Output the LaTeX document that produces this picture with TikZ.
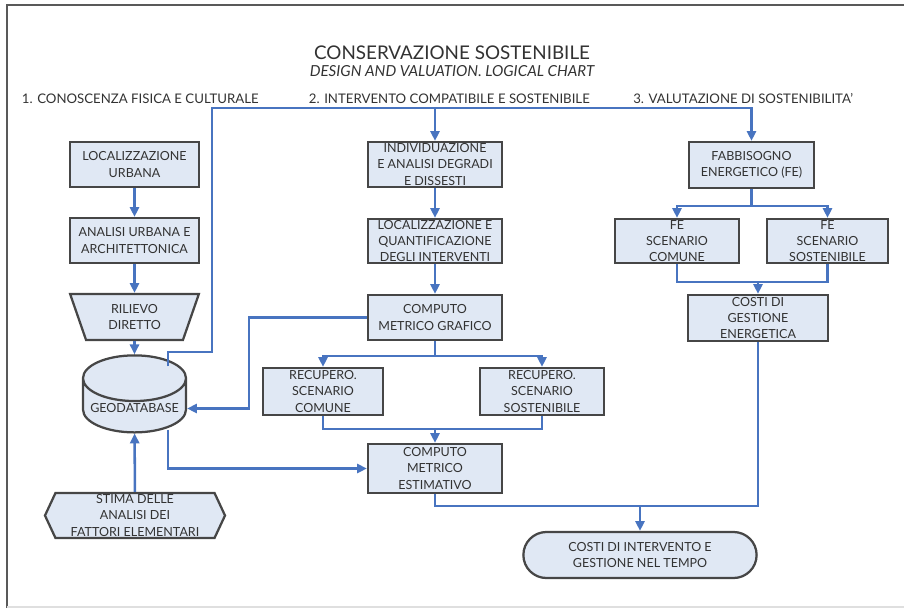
\documentclass[tikz,border=0pt]{standalone}
\usepackage{fontspec}
\setmainfont{Lato}
\usepackage{xcolor}
\definecolor{Flowblue}{RGB}{72,116,192}
\definecolor{Boxfill}{RGB}{224,232,244}
\definecolor{Boxline}{RGB}{70,70,70}
\definecolor{Textgray}{RGB}{50,50,50}
\usetikzlibrary{calc, positioning, arrows.meta, shapes.geometric, shapes.misc, shapes.symbols}

\begin{document}
\begin{tikzpicture}[
  x=0.025cm, y=-0.025cm,
  font=\fontsize{8.9}{11.4}\selectfont, text=Textgray,
  fbox/.style={draw=Boxline, fill=Boxfill, line width=1.6pt, align=center,
               inner sep=1pt, minimum width=3.35cm, minimum height=1.125cm},
  fdb/.style={fbox, cylinder, shape border rotate=90, aspect=0.5},
  ftrap/.style={fbox, trapezium, shape border rotate=180, trapezium stretches=true,
                trapezium left angle=72, trapezium right angle=72},
  fhex/.style={fbox, signal, signal to=west and east, signal pointer angle=130},
  fend/.style={fbox, rounded rectangle},
  line/.style={draw=Flowblue, line width=1.8pt},
  flow/.style={line, -{Triangle[length=7pt, width=6.5pt]}},
  sect/.style={font=\fontsize{9.4}{11}\selectfont}
]
\useasboundingbox (0,0) rectangle (904,608);

%% ---- cornice ----
\draw[gray!70!black, line width=1.4pt] (7,608) -- (7,5) -- (904,5);
\draw[gray!25, line width=0.8pt] (7,607) -- (904,607);

%% ---- titoli ----
\node (title) at (452,52.5) {\fontsize{13.4}{15}\selectfont CONSERVAZIONE SOSTENIBILE};
\node (subtitle) at (452,71) {\fontsize{10.8}{13}\selectfont\itshape DESIGN AND VALUATION. LOGICAL CHART};
\node[sect, anchor=west] (sec1) at (17,98.5) {1. CONOSCENZA FISICA E CULTURALE};
\node[sect, anchor=west] (sec2) at (304,98.5) {2. INTERVENTO COMPATIBILE E SOSTENIBILE};
\node[sect, anchor=east] (sec3) at (858,98.5) {3. VALUTAZIONE DI SOSTENIBILITA'};

%% ---- colonna 1: conoscenza ----
\node[fbox, minimum width=3.225cm] (loc) at (134.5,164.5) {LOCALIZZAZIONE\\URBANA};
\node[fbox, minimum width=3.225cm] (anu) at (134.5,240.5) {ANALISI URBANA E\\ARCHITETTONICA};
\node[ftrap, minimum width=3.225cm, minimum height=1.15cm] (ril) at (134.5,317) {RILIEVO\\DIRETTO};
\node[fdb, minimum width=2.575cm, minimum height=1.925cm] (geo) at (134.5,408.5) {GEODATABASE};
\node[fhex, minimum width=4.5cm] (stima) at (135,515.5) {STIMA DELLE\\ANALISI DEI\\FATTORI ELEMENTARI};

\draw[flow] (loc) -- (anu);
\draw[flow] (anu) -- (ril);
\draw[flow] (ril) -- (geo);
\draw[flow] (stima) -- (geo);

%% ---- colonna 2: intervento ----
\node[fbox] (ind) at (435,164.5) {INDIVIDUAZIONE\\E ANALISI DEGRADI\\E DISSESTI};
\node[fbox, minimum height=1.1cm] (lq) at (435,241) {LOCALIZZAZIONE E\\QUANTIFICAZIONE\\DEGLI INTERVENTI};
\node[fbox] (cmg) at (435,317.5) {COMPUTO\\METRICO GRAFICO};
\node[fbox, minimum width=3cm, minimum height=1.175cm] (rcc) at (323,391.5) {RECUPERO.\\SCENARIO\\COMUNE};
\node[fbox, minimum width=3.1cm, minimum height=1.175cm] (rcs) at (542,391.5) {RECUPERO.\\SCENARIO\\SOSTENIBILE};
\node[fbox, minimum height=1.225cm] (cme) at (435,468.5) {COMPUTO\\METRICO\\ESTIMATIVO};

\coordinate (cmgsplit) at (435,356);
\coordinate (rcmerge) at (435,429);

\draw[flow] (ind) -- (lq);
\draw[flow] (lq) -- (cmg);
\draw[line] (cmg.south) -- (cmgsplit);
\draw[flow] (cmgsplit) -| (rcc.north);
\draw[flow] (cmgsplit) -| (rcs.north);
\draw[line] (rcc.south) |- (rcmerge) -| (rcs.south);
\draw[flow] (rcmerge) -- (cme.north);

%% ---- colonna 3: valutazione ----
\node[fbox, minimum width=3.125cm, minimum height=1.15cm] (fab) at (751.5,165) {FABBISOGNO\\ENERGETICO (FE)};
\node[fbox, minimum width=3.1cm, minimum height=1.1cm] (fec) at (677,241) {FE\\SCENARIO\\COMUNE};
\node[fbox, minimum width=3.025cm, minimum height=1.1cm] (fes) at (827.5,241) {FE\\SCENARIO\\SOSTENIBILE};
\node[fbox, minimum width=3.5cm, minimum height=1.15cm] (cge) at (758,318) {COSTI DI\\GESTIONE\\ENERGETICA};
\node[fend, minimum width=5.9cm, minimum height=1.15cm] (cit) at (640,555) {COSTI DI INTERVENTO E\\GESTIONE NEL TEMPO};

\coordinate (fabsplit) at (751.5,206);
\coordinate (femerge) at (758,282);
\coordinate (costmerge) at (640,506);

\draw[line] (fab.south) -- (fabsplit);
\draw[flow] (fabsplit) -| (fec.north);
\draw[flow] (fabsplit) -| (fes.north);
\draw[line] (fec.south) |- (femerge) -| (fes.south);
\draw[flow] (femerge) -- (cge.north);

%% ---- collegamenti tra colonne ----
\coordinate (topleft) at (212,108);
\coordinate (geoup) at (212,352);
\draw[flow] ([xshift=0.8375cm, yshift=-0.3cm]geo.north) |- (geoup) -- (topleft) -| (fab.north);
\draw[flow] (ind.north |- topleft) -- (ind.north);
\draw[flow] (cmg.west) -- ++(-118,0) |- (geo.east);
\draw[flow] ([xshift=0.8375cm, yshift=0.1cm]geo.south) |- (cme.west);
\draw[line] (cme.south) |- (costmerge);
\draw[line] (cge.south) |- (costmerge);
\draw[flow] (costmerge) -- (cit.north);

\end{tikzpicture}
\end{document}
